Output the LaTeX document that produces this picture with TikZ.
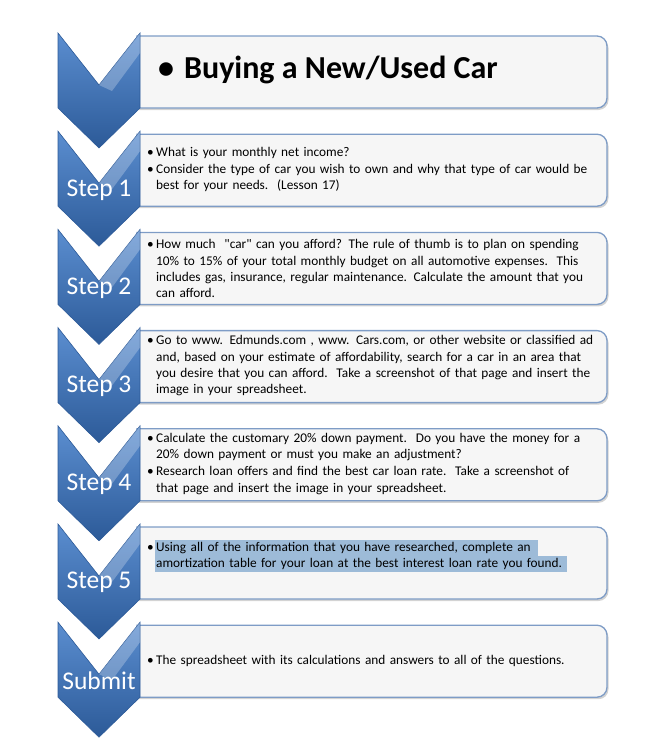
\documentclass[tikz,border=0pt]{standalone}
\usepackage{fontspec}
\setmainfont{Carlito}
\newfontfamily\plainq{Carlito}
\usetikzlibrary{shadows}
\definecolor{chevA}{HTML}{2C5A98}
\definecolor{chevB}{HTML}{5B8ED0}
\definecolor{boxline}{HTML}{7E9CC6}
\definecolor{hl}{HTML}{9DBBD8}
\newcommand\bi[1]{\noindent\makebox[9pt][l]{\textbullet}\parbox[t]{450pt}{\strut#1\strut}\par}
\tikzset{
  chev/.style={draw=chevA, line width=0.6pt, top color=chevB, bottom color=chevA, shading angle=0},
  stepbox/.style={draw=boxline, line width=1.3pt, fill=gray!7, drop shadow={shadow xshift=1.5pt, shadow yshift=-2pt, opacity=0.35}},
  body/.style={anchor=west, text width=460pt, font=\fontsize{13.3}{16.4}\selectfont, inner sep=0pt},
  steplbl/.style={text=white, font=\fontsize{25.5}{27}\selectfont, inner sep=0pt}
}
\begin{document}
\begin{tikzpicture}[x=1pt,y=-1pt]
\useasboundingbox (0,0) rectangle (664,747);
\foreach \i in {0,...,6}{
  \pgfmathsetmacro{\t}{33+98.2*\i}
  \path[stepbox] (137,\t+3) [rounded corners=10pt] -- (607,\t+3) -- (607,\t+75) [sharp corners] -- (137,\t+75) -- cycle;
  \path[chev] (58,\t) -- (99,\t+52) -- (140,\t) -- (140,\t+75) -- (99,\t+115) -- (58,\t+75) -- cycle;
  \fill[white, opacity=0.25] (99,\t+52) -- (140,\t) -- (140,\t+20) -- (112,\t+58) -- cycle;
}
% highlight step 5
\fill[hl] (155,540) rectangle (538,556);
\fill[hl] (155,556) rectangle (567,572);
\node[anchor=west, inner sep=0pt, font=\fontsize{32}{34}\selectfont\bfseries] (title) at (158,70) {\textbullet\hspace{10pt}Buying a New/Used Car};
\node[steplbl] (s1) at (99,190) {Step 1};
\node[steplbl] (s2) at (99,288) {Step 2};
\node[steplbl] (s3) at (99,386) {Step 3};
\node[steplbl] (s4) at (99,484) {Step 4};
\node[steplbl] (s5) at (99,582) {Step 5};
\node[steplbl] (s6) at (99,681) {Submit};
\node[body] (t1) at (147,170) {\bi{What is your monthly net income?}\bi{Consider the type of car you wish to own and why that type of car would be\\best for your needs.\ \ (Lesson 17)}};
\node[body] (t2) at (147,270) {\bi{How much\ \ {\plainq"car"} can you afford? The rule of thumb is to plan on spending\\10\% to 15\% of your total monthly budget on all automotive expenses.\ \ This\\includes gas, insurance, regular maintenance. Calculate the amount that you\\can afford.}};
\node[body] (t3) at (147,366) {\bi{Go to www. Edmunds.com , www. Cars.com, or other website or classified ad\\and, based on your estimate of affordability, search for a car in an area that\\you desire that you can afford.\ \ Take a screenshot of that page and insert the\\image in your spreadsheet.}};
\node[body] (t4) at (147,464) {\bi{Calculate the customary 20\% down payment.\ \ Do you have the money for a\\20\% down payment or must you make an adjustment?}\bi{Research loan offers and find the best car loan rate.\ \ Take a screenshot of\\that page and insert the image in your spreadsheet.}};
\node[body] (t5) at (147,556) {\bi{Using all of the information that you have researched, complete an\\amortization table for your loan at the best interest loan rate you found.}};
\node[body] (t6) at (147,661) {\bi{The spreadsheet with its calculations and answers to all of the questions.}};
\end{tikzpicture}
\end{document}
